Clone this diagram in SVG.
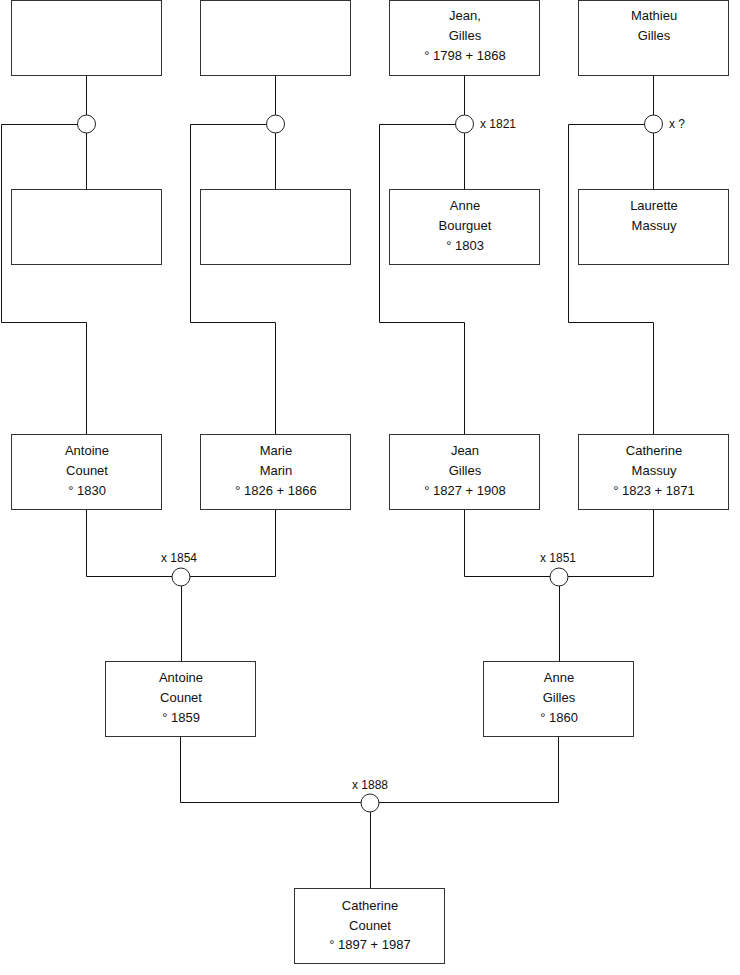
<svg xmlns="http://www.w3.org/2000/svg" width="740" height="975" viewBox="0 0 740 975">
<style>
.box{fill:#fff;stroke:#333;stroke-width:1}
.ring{fill:#fff;stroke:#222;stroke-width:1}
.ln{fill:none;stroke:#111;stroke-width:1}
text{font-family:"Liberation Sans",Arial,sans-serif;font-size:12px;fill:#111}
.c{text-anchor:middle;font-size:13px}
.m{text-anchor:middle}
</style>
<rect width="740" height="975" fill="#fff"/>
<g id="connectors">
<path class="ln" d="M86.5 76V189M1.5 124.5H86.5M1.5 124.5V322.5H86.5V434"/>
<path class="ln" d="M275.5 76V189M190.5 124.5H275.5M190.5 124.5V322.5H275.5V434"/>
<path class="ln" d="M464.5 76V189M379.5 124.5H464.5M379.5 124.5V322.5H464.5V434"/>
<path class="ln" d="M653.5 76V189M568.5 124.5H653.5M568.5 124.5V322.5H653.5V434"/>
<path class="ln" d="M86.5 510V576.5H275.5V510M181.5 576.5V661"/>
<path class="ln" d="M464.5 510V576.5H653.5V510M559.5 576.5V661"/>
<path class="ln" d="M180.5 737V802.5H558.5V737M370.5 802.5V888"/>
</g>
<g id="m1"><circle class="ring" cx="86.5" cy="124" r="9"/></g>
<g id="m2"><circle class="ring" cx="275.5" cy="124" r="9"/></g>
<g id="m3"><circle class="ring" cx="464.5" cy="124" r="9"/><text x="480" y="128">x 1821</text></g>
<g id="m4"><circle class="ring" cx="653.5" cy="124" r="9"/><text x="669" y="128">x ?</text></g>
<g id="m5"><circle class="ring" cx="181" cy="577" r="9"/><text class="m" x="179" y="562">x 1854</text></g>
<g id="m6"><circle class="ring" cx="559" cy="577" r="9"/><text class="m" x="558" y="562">x 1851</text></g>
<g id="m7"><circle class="ring" cx="370" cy="803" r="9"/><text class="m" x="370" y="789">x 1888</text></g>
<g id="p1"><rect class="box" x="11.5" y="0.5" width="150" height="75"/></g>
<g id="p2"><rect class="box" x="200.5" y="0.5" width="150" height="75"/></g>
<g id="p3"><rect class="box" x="389.5" y="0.5" width="150" height="75"/><text class="c" x="465" y="20">Jean,</text><text class="c" x="465" y="40">Gilles</text><text class="c" x="465" y="60">° 1798 + 1868</text></g>
<g id="p4"><rect class="box" x="578.5" y="0.5" width="150" height="75"/><text class="c" x="654" y="20">Mathieu</text><text class="c" x="654" y="40">Gilles</text></g>
<g id="p5"><rect class="box" x="11.5" y="189.5" width="150" height="75"/></g>
<g id="p6"><rect class="box" x="200.5" y="189.5" width="150" height="75"/></g>
<g id="p7"><rect class="box" x="389.5" y="189.5" width="150" height="75"/><text class="c" x="465" y="210">Anne</text><text class="c" x="465" y="230">Bourguet</text><text class="c" x="465" y="250">° 1803</text></g>
<g id="p8"><rect class="box" x="578.5" y="189.5" width="150" height="75"/><text class="c" x="654" y="210">Laurette</text><text class="c" x="654" y="230">Massuy</text></g>
<g id="p9"><rect class="box" x="11.5" y="434.5" width="150" height="75"/><text class="c" x="87" y="455">Antoine</text><text class="c" x="87" y="475">Counet</text><text class="c" x="87" y="495">° 1830</text></g>
<g id="p10"><rect class="box" x="200.5" y="434.5" width="150" height="75"/><text class="c" x="276" y="455">Marie</text><text class="c" x="276" y="475">Marin</text><text class="c" x="276" y="495">° 1826 + 1866</text></g>
<g id="p11"><rect class="box" x="389.5" y="434.5" width="150" height="75"/><text class="c" x="465" y="455">Jean</text><text class="c" x="465" y="475">Gilles</text><text class="c" x="465" y="495">° 1827 + 1908</text></g>
<g id="p12"><rect class="box" x="578.5" y="434.5" width="150" height="75"/><text class="c" x="654" y="455">Catherine</text><text class="c" x="654" y="475">Massuy</text><text class="c" x="654" y="495">° 1823 + 1871</text></g>
<g id="p13"><rect class="box" x="105.5" y="661.5" width="150" height="75"/><text class="c" x="181" y="682">Antoine</text><text class="c" x="181" y="702">Counet</text><text class="c" x="181" y="722">° 1859</text></g>
<g id="p14"><rect class="box" x="483.5" y="661.5" width="150" height="75"/><text class="c" x="559" y="682">Anne</text><text class="c" x="559" y="702">Gilles</text><text class="c" x="559" y="722">° 1860</text></g>
<g id="p15"><rect class="box" x="294.5" y="888.5" width="150" height="75"/><text class="c" x="370" y="910">Catherine</text><text class="c" x="370" y="930">Counet</text><text class="c" x="370" y="949">° 1897 + 1987</text></g>
</svg>
